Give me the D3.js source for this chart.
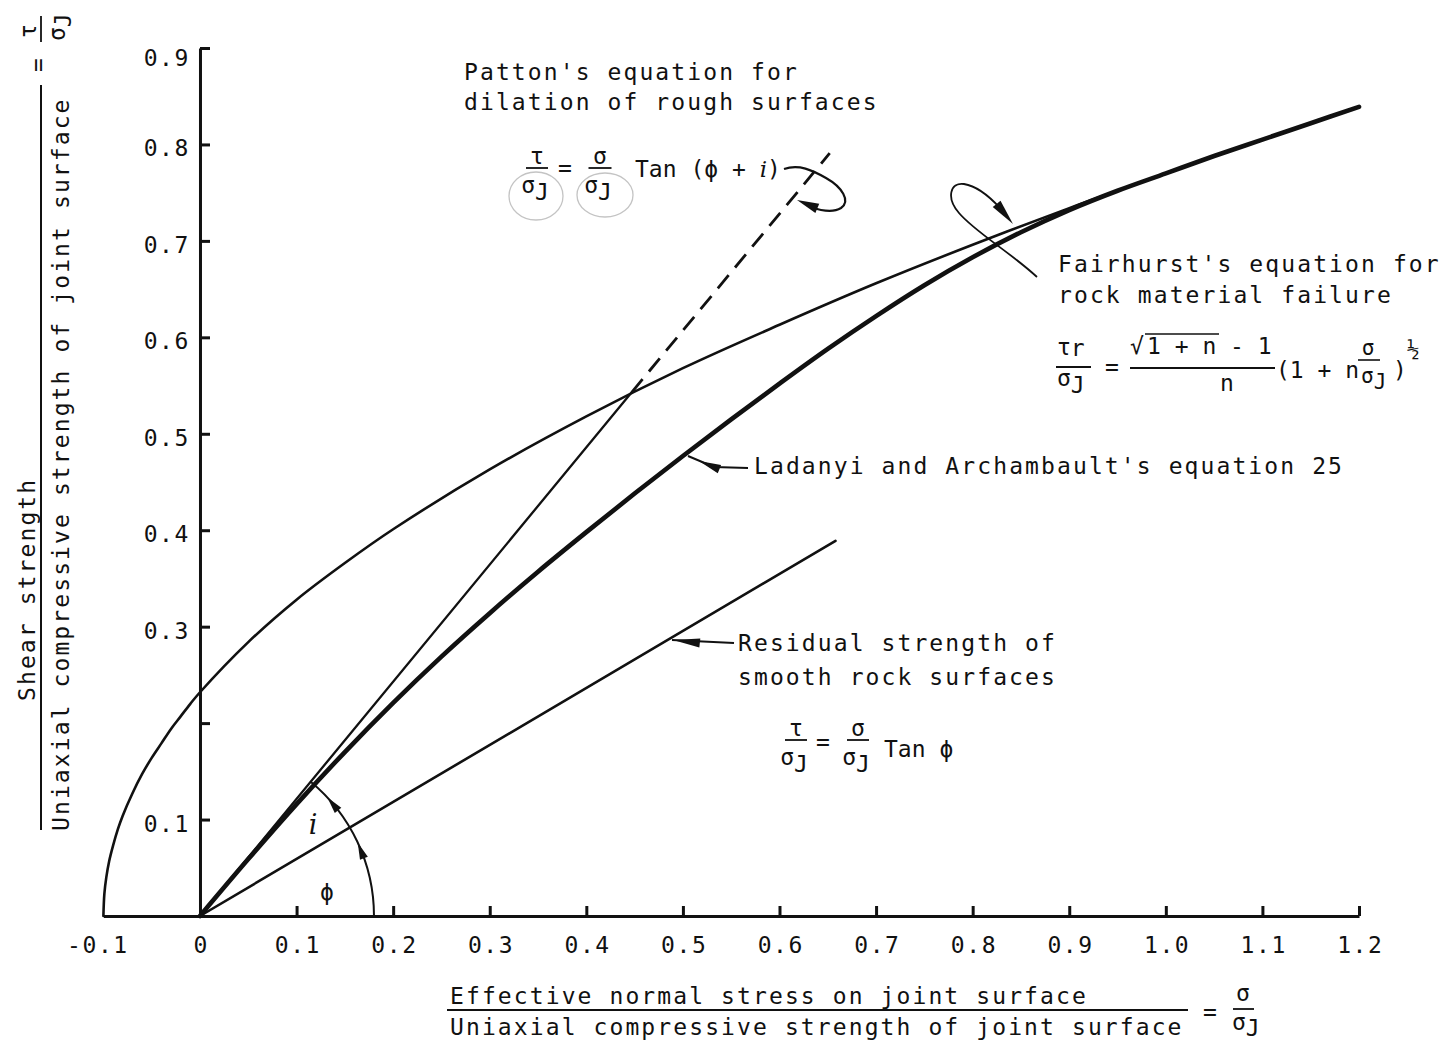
<!DOCTYPE html>
<html>
<head>
<meta charset="utf-8">
<script src="https://cdn.jsdelivr.net/npm/d3@7"></script>
<style>
  html, body { margin: 0; padding: 0; background: #fff; }
  svg { display: block; }
  text { font-family: "DejaVu Sans Mono", "Liberation Mono", monospace; fill: #111; }
</style>
</head>
<body>
<svg id="chart" width="1443" height="1045"></svg>
<script>
// ---- axis ticks ----
const xTickValues = [-0.1, 0, 0.1, 0.2, 0.3, 0.4, 0.5, 0.6, 0.7, 0.8, 0.9, 1.0, 1.1, 1.2];
const xTickLabels = ["-0.1", "0", "0.1", "0.2", "0.3", "0.4", "0.5", "0.6", "0.7", "0.8", "0.9", "1.0", "1.1", "1.2"];
const yTickValues = [0.1, 0.2, 0.3, 0.4, 0.5, 0.6, 0.7, 0.8, 0.9];
const yTickLabels = ["0.1", "", "0.3", "0.4", "0.5", "0.6", "0.7", "0.8", "0.9"];

// ---- Fairhurst: rock material failure envelope ----
const fairhurstSigma = [-0.1, -0.099, -0.097, -0.094, -0.09, -0.085, -0.08, -0.07, -0.06, -0.05, -0.04, -0.03, -0.02, -0.01, 0, 0.05, 0.1, 0.15, 0.2, 0.3, 0.4, 0.5, 0.6, 0.7, 0.8, 0.9, 0.95, 1.0, 1.05, 1.1, 1.15, 1.2];
const fairhurstTau   = [0, 0.023, 0.040, 0.057, 0.073, 0.090, 0.104, 0.127, 0.147, 0.164, 0.179, 0.194, 0.207, 0.220, 0.232, 0.284, 0.328, 0.366, 0.401, 0.463, 0.518, 0.568, 0.613, 0.656, 0.696, 0.734, 0.752, 0.770, 0.788, 0.805, 0.822, 0.839];

// ---- Ladanyi and Archambault, equation 25 ----
const ladanyiSigma = [0, 0.05, 0.1, 0.15, 0.2, 0.25, 0.3, 0.35, 0.4, 0.45, 0.5, 0.55, 0.6, 0.65, 0.7, 0.75, 0.8, 0.85, 0.9, 0.95, 1.0, 1.05, 1.1, 1.15, 1.2];
const ladanyiTau   = [0, 0.059, 0.116, 0.170, 0.221, 0.269, 0.314, 0.357, 0.398, 0.438, 0.477, 0.515, 0.552, 0.588, 0.622, 0.654, 0.683, 0.709, 0.732, 0.752, 0.770, 0.788, 0.805, 0.822, 0.839];

// ---- Patton: dilation of rough surfaces (solid, then dashed) ----
const pattonSigma = [0, 0.447, 0.652];
const pattonTau   = [0, 0.543, 0.791];

// ---- Residual strength of smooth rock surfaces ----
const residualSigma = [0, 0.658];
const residualTau   = [0, 0.389];

const svg = d3.select("#chart");
svg.append("rect").attr("width", 1443).attr("height", 1045).attr("fill", "#fff");

const x = d3.scaleLinear().domain([-0.1, 1.2]).range([103.4, 1359]);
const y = d3.scaleLinear().domain([0, 0.9]).range([916, 48]);

const INK = "#111";
const FS = 23;        // label font size
const LS = "2.1px";   // label letter spacing

// ---- axes ----
const xAxis = d3.axisBottom(x)
  .tickValues(xTickValues)
  .tickFormat((d, i) => xTickLabels[i])
  .tickSizeInner(-10).tickSizeOuter(0).tickPadding(21);
const gx = svg.append("g").attr("transform", `translate(0,${y(0)})`).call(xAxis);
gx.select(".domain").attr("stroke", INK).attr("stroke-width", 3);
gx.selectAll(".tick line").attr("stroke", INK).attr("stroke-width", 3)
  .filter(d => d <= 0).remove();
gx.selectAll(".tick text")
  .attr("font-size", FS).attr("fill", INK)
  .style("font-family", '"DejaVu Sans Mono", monospace')
  .style("letter-spacing", "1.6px")
  .attr("dx", "0.8px");
gx.selectAll(".tick text").filter(d => d < 0).attr("dx", "-6px");

const yAxis = d3.axisLeft(y)
  .tickValues(yTickValues)
  .tickFormat((d, i) => yTickLabels[i])
  .tickSizeInner(-10).tickSizeOuter(0).tickPadding(10);
const gy = svg.append("g").attr("transform", `translate(${x(0)},0)`).call(yAxis);
gy.select(".domain").attr("stroke", INK).attr("stroke-width", 3);
gy.selectAll(".tick line").attr("stroke", INK).attr("stroke-width", 3);
gy.selectAll(".tick text")
  .attr("font-size", FS).attr("fill", INK)
  .style("font-family", '"DejaVu Sans Mono", monospace')
  .style("letter-spacing", "1.6px")
  .attr("dy", "0.5em");
gy.selectAll(".tick text").filter(d => d > 0.85).attr("dy", "0.75em");

// ---- curves ----
const toPts = (xs, ys) => xs.map((s, i) => [s, ys[i]]);
const line = d3.line().x(d => x(d[0])).y(d => y(d[1])).curve(d3.curveCatmullRom.alpha(0.5));
const straight = d3.line().x(d => x(d[0])).y(d => y(d[1]));

const plot = svg.append("g").attr("fill", "none").attr("stroke", INK)
  .attr("stroke-linecap", "round").attr("stroke-linejoin", "round");

plot.append("path").attr("d", line(toPts(fairhurstSigma, fairhurstTau))).attr("stroke-width", 2.6);
plot.append("path").attr("d", straight(toPts(residualSigma, residualTau))).attr("stroke-width", 2.6);
const patton = toPts(pattonSigma, pattonTau);
plot.append("path").attr("d", straight(patton.slice(0, 2))).attr("stroke-width", 2.3);
plot.append("path").attr("d", straight(patton.slice(1, 3))).attr("stroke-width", 2.8)
  .attr("stroke-dasharray", "17 10").attr("stroke-linecap", "butt");
plot.append("path").attr("d", line(toPts(ladanyiSigma, ladanyiTau))).attr("stroke-width", 4.6);

// ---- helpers for annotation arrows ----
function arrowHead(tipX, tipY, fromX, fromY, len, half) {
  const a = Math.atan2(tipY - fromY, tipX - fromX);
  const bx = tipX - len * Math.cos(a), by = tipY - len * Math.sin(a);
  const px = -Math.sin(a) * half, py = Math.cos(a) * half;
  return `M${tipX},${tipY}L${bx + px},${by + py}L${bx - px},${by - py}Z`;
}
const ann = svg.append("g");

// ---- angle arc for phi and i ----
const ox = x(0), oy = y(0);
const angleOf = (s, t) => Math.atan2(oy - y(t), x(s) - ox);
const thetaP = angleOf(pattonSigma[1], pattonTau[1]);
const R = 174;
const arcPath = d3.path();
arcPath.arc(ox, oy, R, 0, -thetaP, true);
ann.append("path").attr("d", arcPath.toString()).attr("fill", "none").attr("stroke", INK).attr("stroke-width", 2);
function arcArrow(thTip, thBase) {
  const tx = ox + R * Math.cos(thTip), ty = oy - R * Math.sin(thTip);
  const bx = ox + R * Math.cos(thBase), by = oy - R * Math.sin(thBase);
  ann.append("path").attr("d", arrowHead(tx, ty, bx, by, 17, 4.2)).attr("fill", INK);
}
arcArrow(25 * Math.PI / 180, 18 * Math.PI / 180);
arcArrow(43 * Math.PI / 180, 36 * Math.PI / 180);

svg.append("text").attr("x", 327).attr("y", 900).attr("font-size", 23).attr("text-anchor", "middle").text("ϕ");
svg.append("text").attr("x", 313).attr("y", 834).attr("font-size", 27).attr("text-anchor", "middle")
  .style("font-family", '"DejaVu Serif", serif').style("font-style", "italic").text("i");

// ---- text helpers ----
const T = (xp, yp, str, size, extra) => {
  const t = svg.append("text").attr("x", xp).attr("y", yp).attr("font-size", size || FS).text(str);
  if (extra) extra(t);
  return t;
};
const spaced = t => t.style("letter-spacing", LS);

function frac(cx, top, bottom, barY, barW, size) {
  svg.append("text").attr("x", cx).attr("y", barY - 4).attr("font-size", size).attr("text-anchor", "middle").text(top);
  const b = svg.append("text").attr("x", cx - 2).attr("y", barY + 25).attr("font-size", size).attr("text-anchor", "middle");
  b.append("tspan").text(bottom[0]);
  if (bottom.length > 1) b.append("tspan").attr("dy", 7).text(bottom[1]);
  svg.append("line").attr("x1", cx - barW / 2).attr("x2", cx + barW / 2).attr("y1", barY).attr("y2", barY)
    .attr("stroke", INK).attr("stroke-width", 1.8);
}

// ---- Patton label, formula and loop arrow ----
spaced(T(464, 80, "Patton's equation for"));
spaced(T(464, 110, "dilation of rough surfaces"));

// pencil rings round the σJ terms
svg.append("ellipse").attr("cx", 536).attr("cy", 196).attr("rx", 27).attr("ry", 24)
  .attr("fill", "none").attr("stroke", "#c4c4c4").attr("stroke-width", 1.3);
svg.append("ellipse").attr("cx", 605).attr("cy", 195).attr("rx", 28).attr("ry", 22)
  .attr("fill", "none").attr("stroke", "#c4c4c4").attr("stroke-width", 1.3);

frac(537, "τ", ["σ", "J"], 168, 22, 23);
T(565, 176, "=", 23, t => t.attr("text-anchor", "middle"));
frac(600, "σ", ["σ", "J"], 168, 23, 23);
const tanP = T(635, 177, "Tan (ϕ + ", 23);
tanP.append("tspan").style("font-family", '"DejaVu Serif", serif').style("font-style", "italic").text("i");
tanP.append("tspan").text(")");

ann.append("path")
  .attr("d", "M784,169 C799,164 812,170 826,178 C842,187 851,201 841,208 C833,213 822,211 811,207")
  .attr("fill", "none").attr("stroke", INK).attr("stroke-width", 2.2);
ann.append("path").attr("d", arrowHead(797, 200, 821, 210, 22, 5)).attr("fill", INK);

// ---- Fairhurst label, formula and loop arrow ----
spaced(T(1058, 272, "Fairhurst's equation for"));
spaced(T(1058, 303, "rock material failure"));

ann.append("path")
  .attr("d", "M1037,277 C1010,252 975,232 959,213 C946,198 950,182 964,184 C977,186 989,196 1000,208")
  .attr("fill", "none").attr("stroke", INK).attr("stroke-width", 1.8);
ann.append("path").attr("d", arrowHead(1013, 224, 996, 203, 26, 5)).attr("fill", INK);

// τr / σJ
const tr = T(1057, 355, "τ", 23); tr.append("tspan").attr("dy", 1).text("r");
svg.append("line").attr("x1", 1056).attr("x2", 1091).attr("y1", 367).attr("y2", 367).attr("stroke", INK).attr("stroke-width", 1.8);
const sj1 = T(1057, 386, "σ", 23); sj1.append("tspan").attr("dy", 7).text("J");
T(1112, 375, "=", 23, t => t.attr("text-anchor", "middle"));
// (√(1+n) − 1) / n
T(1130, 354, "√", 23);
T(1147, 354, "1 + n  - 1", 23);
svg.append("line").attr("x1", 1145).attr("x2", 1219).attr("y1", 334).attr("y2", 334).attr("stroke", INK).attr("stroke-width", 1.6);
svg.append("line").attr("x1", 1130).attr("x2", 1275).attr("y1", 368).attr("y2", 368).attr("stroke", INK).attr("stroke-width", 1.8);
T(1227, 391, "n", 23, t => t.attr("text-anchor", "middle"));
// (1 + n σ/σJ)^½
T(1276, 378, "(1 + n", 23);
T(1368, 355, "σ", 21, t => t.attr("text-anchor", "middle"));
svg.append("line").attr("x1", 1358).attr("x2", 1380).attr("y1", 360).attr("y2", 360).attr("stroke", INK).attr("stroke-width", 1.6);
const sj2 = T(1361, 383, "σ", 21); sj2.append("tspan").attr("dy", 6).text("J");
T(1393, 378, ")", 23);
T(1407, 356, "½", 21);

// ---- Ladanyi label with leader ----
spaced(T(754, 474, "Ladanyi and Archambault's equation 25"));
ann.append("path").attr("d", "M688,456 L714,467 L748,468").attr("fill", "none").attr("stroke", INK).attr("stroke-width", 2);
ann.append("path").attr("d", arrowHead(699, 461, 719, 469, 22, 4.5)).attr("fill", INK);

// ---- Residual label, formula and leader ----
spaced(T(738, 651, "Residual strength of"));
spaced(T(738, 685, "smooth rock surfaces"));
ann.append("path").attr("d", "M672,640 L734,643").attr("fill", "none").attr("stroke", INK).attr("stroke-width", 2);
ann.append("path").attr("d", arrowHead(673, 640, 700, 643, 27, 4.5)).attr("fill", INK);

frac(796, "τ", ["σ", "J"], 740, 22, 23);
T(823, 750, "=", 23, t => t.attr("text-anchor", "middle"));
frac(858, "σ", ["σ", "J"], 740, 22, 23);
T(884, 757, "Tan ϕ", 23);

// ---- x axis title ----
spaced(T(450, 1004, "Effective normal stress on joint surface"));
svg.append("line").attr("x1", 447).attr("x2", 1188).attr("y1", 1010).attr("y2", 1010).attr("stroke", INK).attr("stroke-width", 2);
spaced(T(450, 1035, "Uniaxial compressive strength of joint surface"));
T(1210, 1020, "=", 23, t => t.attr("text-anchor", "middle"));
T(1243, 1001, "σ", 23, t => t.attr("text-anchor", "middle"));
svg.append("line").attr("x1", 1233).attr("x2", 1254).attr("y1", 1009).attr("y2", 1009).attr("stroke", INK).attr("stroke-width", 1.8);
const sjx = T(1232, 1030, "σ", 23); sjx.append("tspan").attr("dy", 6).text("J");

// ---- y axis title (rotated) ----
const yt = svg.append("g").attr("transform", "rotate(-90)");
yt.append("text").attr("x", -701).attr("y", 35).attr("font-size", FS).style("letter-spacing", LS).text("Shear strength");
yt.append("line").attr("x1", -830).attr("x2", -85).attr("y1", 41).attr("y2", 41).attr("stroke", INK).attr("stroke-width", 2);
yt.append("text").attr("x", -831).attr("y", 69).attr("font-size", FS).style("letter-spacing", LS)
  .text("Uniaxial compressive strength of joint surface");
yt.append("text").attr("x", -65).attr("y", 46).attr("font-size", 23).attr("text-anchor", "middle").text("=");
yt.append("text").attr("x", -31).attr("y", 36).attr("font-size", 23).attr("text-anchor", "middle").text("τ");
yt.append("line").attr("x1", -42).attr("x2", -16).attr("y1", 41).attr("y2", 41).attr("stroke", INK).attr("stroke-width", 1.8);
const ysj = yt.append("text").attr("x", -41).attr("y", 65).attr("font-size", 23);
ysj.append("tspan").text("σ");
ysj.append("tspan").attr("dy", 6).text("J");
</script>
</body>
</html>
